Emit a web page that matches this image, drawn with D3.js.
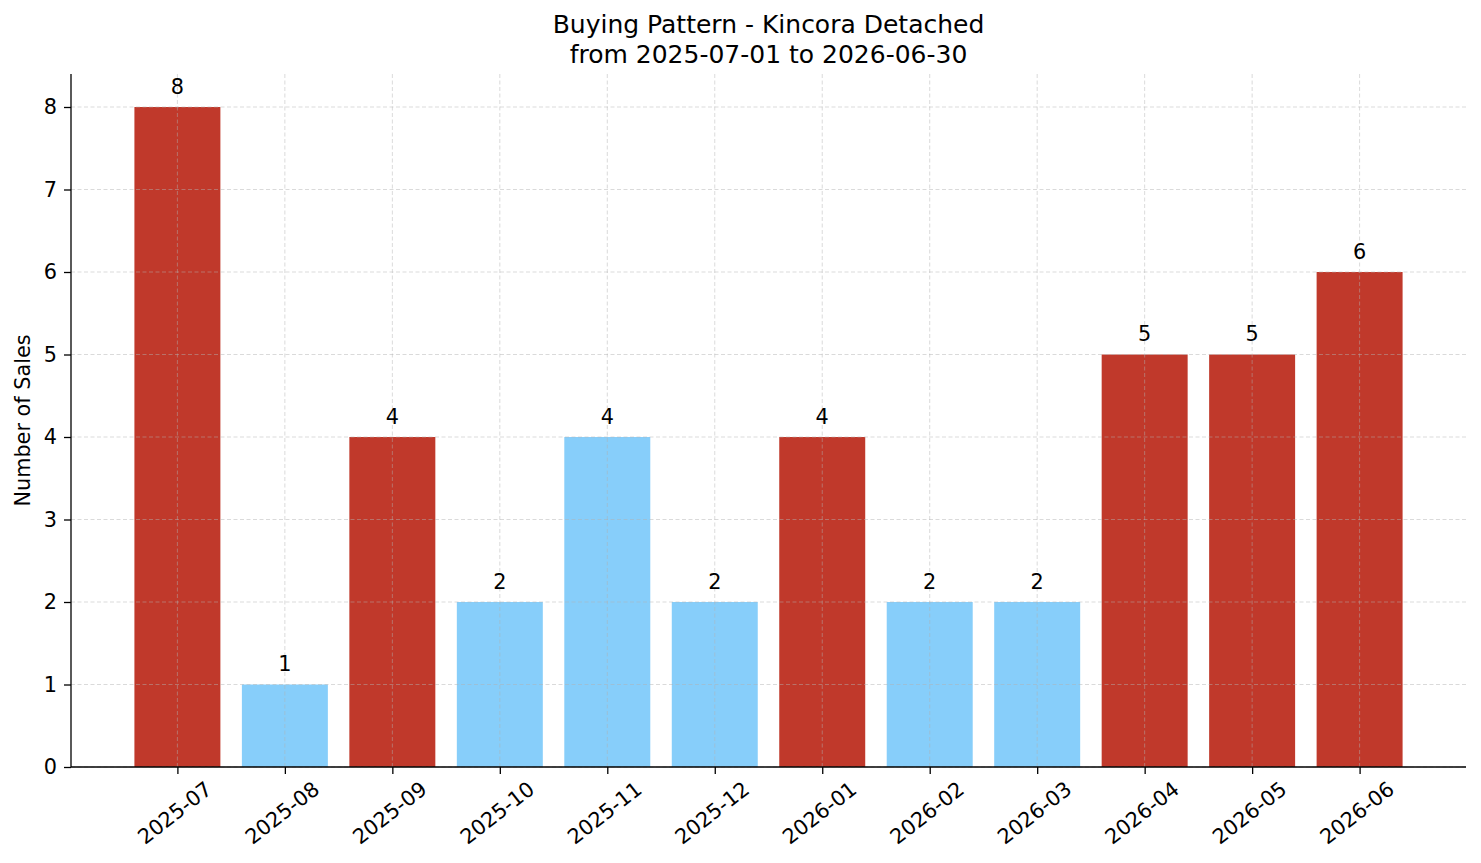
<!DOCTYPE html>
<html>
<head>
<meta charset="utf-8">
<script src="https://cdn.jsdelivr.net/npm/d3@7"></script>
<style>
  body { margin: 0; background: #fff; }
  svg text { font-family: "DejaVu Sans", sans-serif; fill: #000; }
</style>
</head>
<body>
<div id="viz"></div>
<script>
// chart data
var months = ["2025-07", "2025-08", "2025-09", "2025-10", "2025-11", "2025-12",
              "2026-01", "2026-02", "2026-03", "2026-04", "2026-05", "2026-06"];
var sales = [8, 1, 4, 2, 4, 2, 4, 2, 2, 5, 5, 6];
var hot = [true, false, true, false, false, false, true, false, false, true, true, true];
var yTicks = [0, 1, 2, 3, 4, 5, 6, 7, 8];
var titleLines = ["Buying Pattern - Kincora Detached", "from 2025-07-01 to 2026-06-30"];

var canw = 1481, canh = 863;
// plot box (note: "top" is taken by window.top, so use px names)
var pxL = 71, pxR = 1466, pxT = 74, pxB = 767;

var s = d3.select("#viz").append("svg")
    .attr("width", canw)
    .attr("height", canh);

// categorical positions like matplotlib: index -0.99 .. 11.99
var x = d3.scaleLinear().domain([-0.99, months.length - 0.01]).range([pxL, pxR]);
var y = d3.scaleLinear().domain([0, 8.4]).range([pxB, pxT]);
var barw = 0.8;

// bars
s.selectAll("rect.bar").data(sales).enter().append("rect")
    .attr("class", "bar")
    .attr("x", function(d, i){ return x(i - barw / 2); })
    .attr("width", function(){ return x(barw) - x(0); })
    .attr("y", function(d){ return y(d); })
    .attr("height", function(d){ return y(0) - y(d); })
    .style("fill", function(d, i){ return hot[i] ? "#c0392b" : "#87cefa"; });

// grid (drawn on top, light dashed)
var grid = s.append("g")
    .style("stroke", "#b0b0b0")
    .style("stroke-opacity", 0.6)
    .style("stroke-width", 0.8)
    .style("stroke-dasharray", "4,2.5");
grid.selectAll("line.gy").data(yTicks).enter().append("line")
    .attr("class", "gy")
    .attr("x1", pxL).attr("x2", pxR)
    .attr("y1", function(d){ return y(d); })
    .attr("y2", function(d){ return y(d); });
grid.selectAll("line.gx").data(months).enter().append("line")
    .attr("class", "gx")
    .attr("x1", function(d, i){ return x(i); })
    .attr("x2", function(d, i){ return x(i); })
    .attr("y1", pxT).attr("y2", pxB);

// value labels
s.selectAll("text.val").data(sales).enter().append("text")
    .attr("class", "val")
    .attr("x", function(d, i){ return x(i); })
    .attr("y", function(d){ return y(d) - 13.5; })
    .attr("text-anchor", "middle")
    .style("font-size", "20.8px")
    .text(function(d){ return d; });

// axes
var yAxis = d3.axisLeft(y).tickValues(yTicks).tickSize(7).tickPadding(7).tickFormat(d3.format("d"));
var gy = s.append("g").attr("transform", "translate(" + pxL + ",0)").call(yAxis);
gy.select(".domain").attr("d", "M0," + pxT + "V" + pxB);

var xAxis = d3.axisBottom(x).tickValues(d3.range(months.length)).tickSize(7)
    .tickFormat(function(i){ return months[i]; });
var gx = s.append("g").attr("transform", "translate(0," + pxB + ")").call(xAxis);
gx.select(".domain").attr("d", "M" + pxL + ",0H" + pxR);

[gx, gy].forEach(function(g){
    g.selectAll(".domain").style("stroke", "#000").style("stroke-width", 1.3);
    g.selectAll(".tick line").style("stroke", "#000").style("stroke-width", 1.3);
    g.selectAll("text").style("font-size", "20.8px")
        .style("font-family", "DejaVu Sans, sans-serif").attr("fill", "#000");
});

// rotated month labels, bbox centred under each tick
gx.selectAll(".tick text")
    .attr("text-anchor", "middle")
    .attr("dy", null)
    .attr("y", 0)
    .attr("transform", "translate(-3,46) rotate(-38)")
    .attr("dominant-baseline", "central");

// y label
s.append("text")
    .attr("transform", "translate(30," + ((pxT + pxB) / 2) + ") rotate(-90)")
    .attr("text-anchor", "middle")
    .style("font-size", "20.8px")
    .text("Number of Sales");

// title
s.selectAll("text.title").data(titleLines).enter().append("text")
    .attr("class", "title")
    .attr("x", (pxL + pxR) / 2)
    .attr("y", function(d, i){ return 33 + i * 29.5; })
    .attr("text-anchor", "middle")
    .style("font-size", "25px")
    .text(function(d){ return d; });
</script>
</body>
</html>
